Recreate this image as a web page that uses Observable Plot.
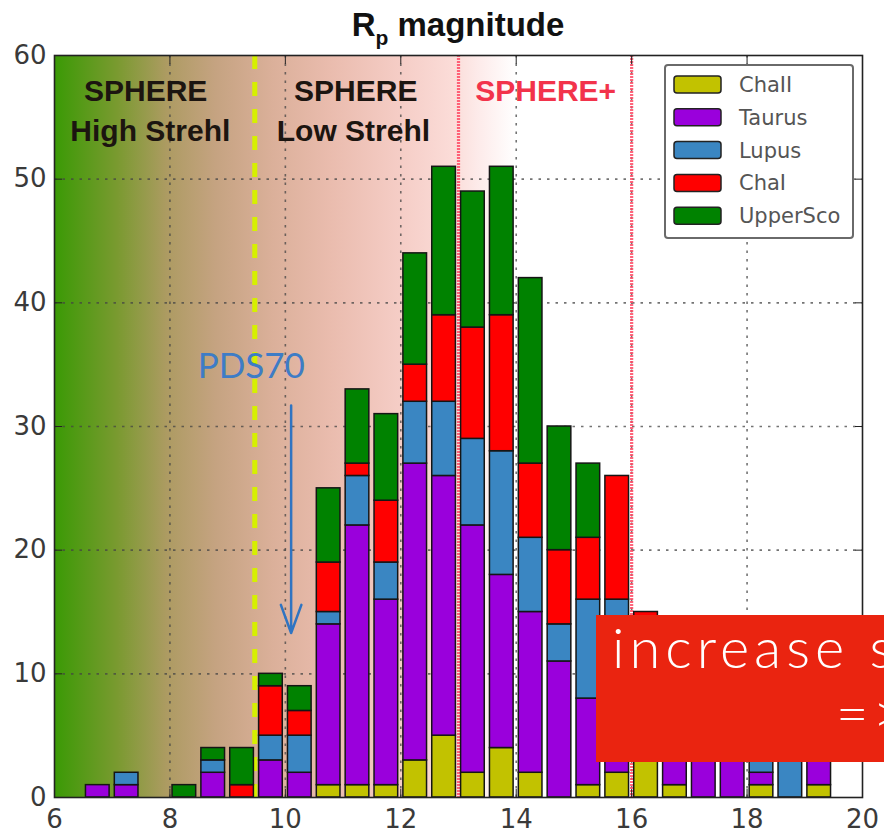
<!DOCTYPE html>
<html><head><meta charset="utf-8">
<script src="https://cdn.jsdelivr.net/npm/d3@7"></script>
<script src="https://cdn.jsdelivr.net/npm/@observablehq/plot@0.6"></script>
<style>
html,body{margin:0;padding:0;background:#fff;overflow:hidden;}
#chart{position:relative;width:884px;height:838px;overflow:hidden;}
</style></head><body><div id="chart"></div>
<script>
// ---- data ----
const bins = [6.5,7.0,7.5,8.0,8.5,9.0,9.5,10.0,10.5,11.0,11.5,12.0,12.5,13.0,13.5,14.0,14.5,15.0,15.5,16.0,16.5,17.0,17.5,18.0,18.5,19.0];
const binWidth = 0.5;
const seriesNames = ["ChaII","Taurus","Lupus","ChaI","UpperSco"];
const seriesColors = ["#c2c200","#9a00dc","#3a86c2","#ff0000","#008200"];
const chaII    = [0,0,0,0,0,0,0,0, 1, 1, 1, 3, 5, 2, 4, 2, 0,1,2,3,1,0,0,1,0,1];
const taurus   = [1,1,0,0,2,0,3,2,13,21,15,24,21,20,14,13,11,7,9,6,7,6,5,1,0,3];
const lupus    = [0,1,0,0,1,0,2,3, 1, 4, 3, 5, 6, 7,10, 6, 3,8,5,3,0,0,0,2,3,0];
const chaI     = [0,0,0,0,0,1,4,2, 4, 1, 5, 3, 7, 9,11, 6, 6,5,10,3,0,0,0,0,0,0];
const upperSco = [0,0,0,1,1,3,1,2, 6, 6, 7, 9,12,11,12,15,10,6,0,0,0,0,0,0,0,0];
const seriesValues = [chaII, taurus, lupus, chaI, upperSco];
const xTicks = [6,8,10,12,14,16,18,20];
const yTicks = [0,10,20,30,40,50,60];
const xDomain = [6,20];
const yDomain = [0,60];
const titleMain = "R", titleSub = "p", titleRest = " magnitude";
const strehlBoundary = [9.47];
const spherePlusBounds = [13, 16];
const bgExtent = [6, 14];
const regionLabels = [
  {x: 7.58, y: 56.35, text: "SPHERE"},
  {x: 7.66, y: 53.1, text: "High Strehl"},
  {x: 11.22, y: 56.35, text: "SPHERE"},
  {x: 11.18, y: 53.1, text: "Low Strehl"}
];
const plusLabel = [{x: 14.51, y: 56.35, text: "SPHERE+"}];
const pdsLabel = [{x: 9.41, y: 33.95, text: "PDS70"}];
const pdsArrow = [{x1: 10.1, y1: 31.7, x2: 10.1, y2: 13.3}];
const overlayLines = ["increase s", "=>"];

// stacked table
const table = [];
bins.forEach((b, i) => {
  let acc = 0;
  seriesNames.forEach((s, j) => {
    const v = seriesValues[j][i];
    if (v > 0) table.push({bin: b, bin2: b + binWidth, series: s, y1: acc, y2: acc + v});
    acc += v;
  });
});

const W = 884, H = 838;
const mL = 54, mR = 22, mT = 55, mB = 41;

const plot = Plot.plot({
  width: W, height: H,
  marginLeft: mL, marginRight: mR, marginTop: mT, marginBottom: mB,
  style: {background: "transparent", fontFamily: "DejaVu Sans"},
  x: {domain: xDomain},
  y: {domain: yDomain},
  color: {domain: seriesNames, range: seriesColors},
  marks: [
    Plot.rect([bgExtent], {x1: d => d[0], x2: d => d[1], y1: yDomain[0], y2: yDomain[1], fill: "url(#bggrad)"}),
    Plot.gridX(xTicks.filter(t => t > xDomain[0] && t < xDomain[1]), {stroke: "#444", strokeOpacity: 0.75, strokeWidth: 1.6, strokeDasharray: "2.5,6"}),
    Plot.gridY(yTicks.filter(t => t > yDomain[0] && t < yDomain[1]), {stroke: "#444", strokeOpacity: 0.75, strokeWidth: 1.6, strokeDasharray: "2.5,6"}),
    Plot.ruleX(spherePlusBounds, {stroke: "#ff4a64", strokeWidth: 3.2, strokeOpacity: 0.85, strokeDasharray: "2,1"}),
    Plot.ruleX(strehlBoundary, {stroke: "#d6f000", strokeWidth: 5, strokeDasharray: "14,13"}),
    Plot.rect(table, {x1: "bin", x2: "bin2", y1: "y1", y2: "y2", fill: "series", insetLeft: 2.6, insetRight: 2.6, stroke: "#151515", strokeWidth: 1.5}),
    Plot.text(regionLabels, {x: "x", y: "y", text: "text", lineAnchor: "bottom", fontSize: 30, fontWeight: "bold", fontFamily: "Liberation Sans", fill: "#1c1510"}),
    Plot.text(plusLabel, {x: "x", y: "y", text: "text", lineAnchor: "bottom", fontSize: 30, fontWeight: "bold", fontFamily: "Liberation Sans", fill: "#f2334b"}),
    Plot.text(pdsLabel, {x: "x", y: "y", text: "text", lineAnchor: "bottom", fontSize: 35, fontWeight: 400, fontFamily: "Lato", fill: "#3d7cc6"}),
    Plot.arrow(pdsArrow, {x1: "x1", y1: "y1", x2: "x2", y2: "y2", stroke: "#2f74c2", strokeWidth: 2.5, headLength: 18, headAngle: 40}),
    Plot.frame({stroke: "#222", strokeWidth: 1.6}),
    Plot.axisX(xTicks, {anchor: "bottom", tickSize: 0, tickPadding: 12, fontSize: 26, fill: "#3a3a3a"}),
    Plot.axisY(yTicks, {anchor: "left", tickSize: 0, tickPadding: 8, fontSize: 26, fill: "#3a3a3a"}),
    Plot.axisX(xTicks, {anchor: "bottom", tickSize: 8, dy: -8, tickFormat: () => "", stroke: "#222"}),
    Plot.axisX(xTicks, {anchor: "top", tickSize: 8, dy: 8, tickFormat: () => "", stroke: "#222"}),
    Plot.axisY(yTicks, {anchor: "left", tickSize: 8, dx: 8, tickFormat: () => "", stroke: "#222"}),
    Plot.axisY(yTicks, {anchor: "right", tickSize: 8, dx: -8, tickFormat: () => "", stroke: "#222"})
  ]
});

const svg = d3.select(plot);
// gradient
const defs = svg.insert("defs", ":first-child");
const grad = defs.append("linearGradient").attr("id", "bggrad").attr("x1", "0").attr("x2", "1").attr("y1", "0").attr("y2", "0");
[[0, "#3a9a05"], [0.1375, "#7a9a30"], [0.244, "#ad9b62"], [0.35, "#c5a381"], [0.475, "#dbb09a"],
 [0.6, "#eabcae"], [0.75, "#f5cdc6"], [0.8625, "#fbdcd8"], [0.92, "#fdebea"], [1, "#ffffff"]]
  .forEach(([o, c]) => grad.append("stop").attr("offset", o).attr("stop-color", c));

// title
const title = svg.append("text").attr("x", (mL + W - mR) / 2).attr("y", 36)
  .attr("text-anchor", "middle").attr("font-family", "Liberation Sans").attr("font-weight", "bold")
  .attr("font-size", 33).attr("fill", "#111");
title.append("tspan").text(titleMain);
title.append("tspan").attr("dy", 9).attr("font-size", 21).text(titleSub);
title.append("tspan").attr("dy", -9).text(titleRest);

// legend
const lg = svg.append("g").attr("transform", "translate(665,65)").attr("text-anchor", "start");
lg.append("rect").attr("width", 188).attr("height", 173).attr("rx", 3).attr("fill", "#fff").attr("stroke", "#6a6a6a").attr("stroke-width", 2);
seriesNames.forEach((s, i) => {
  const cy = 19.5 + i * 32.8;
  lg.append("rect").attr("x", 9).attr("y", cy - 8.5).attr("width", 47).attr("height", 17).attr("rx", 3)
    .attr("fill", seriesColors[i]).attr("stroke", "#222").attr("stroke-width", 1.5);
  lg.append("text").attr("x", 74).attr("y", cy).attr("dy", "0.36em").attr("text-anchor", "start")
    .attr("font-family", "DejaVu Sans").attr("font-size", 21).attr("fill", "#555").text(s);
});

// overlay box
const ov = svg.append("g").attr("text-anchor", "start");
ov.append("rect").attr("x", 596).attr("y", 615).attr("width", 300).attr("height", 147).attr("fill", "#ea2410");
ov.append("text").attr("x", 612).attr("y", 668).attr("text-anchor", "start").attr("font-family", "Lato").attr("font-weight", 300)
  .attr("font-size", 56).attr("letter-spacing", 5).attr("fill", "#fff").text(overlayLines[0]);
ov.append("text").attr("x", 836).attr("y", 733).attr("text-anchor", "start").attr("font-family", "Lato").attr("font-weight", 300)
  .attr("font-size", 56).attr("letter-spacing", 4).attr("fill", "#fff").text(overlayLines[1]);

document.getElementById("chart").appendChild(plot);
</script></body></html>
